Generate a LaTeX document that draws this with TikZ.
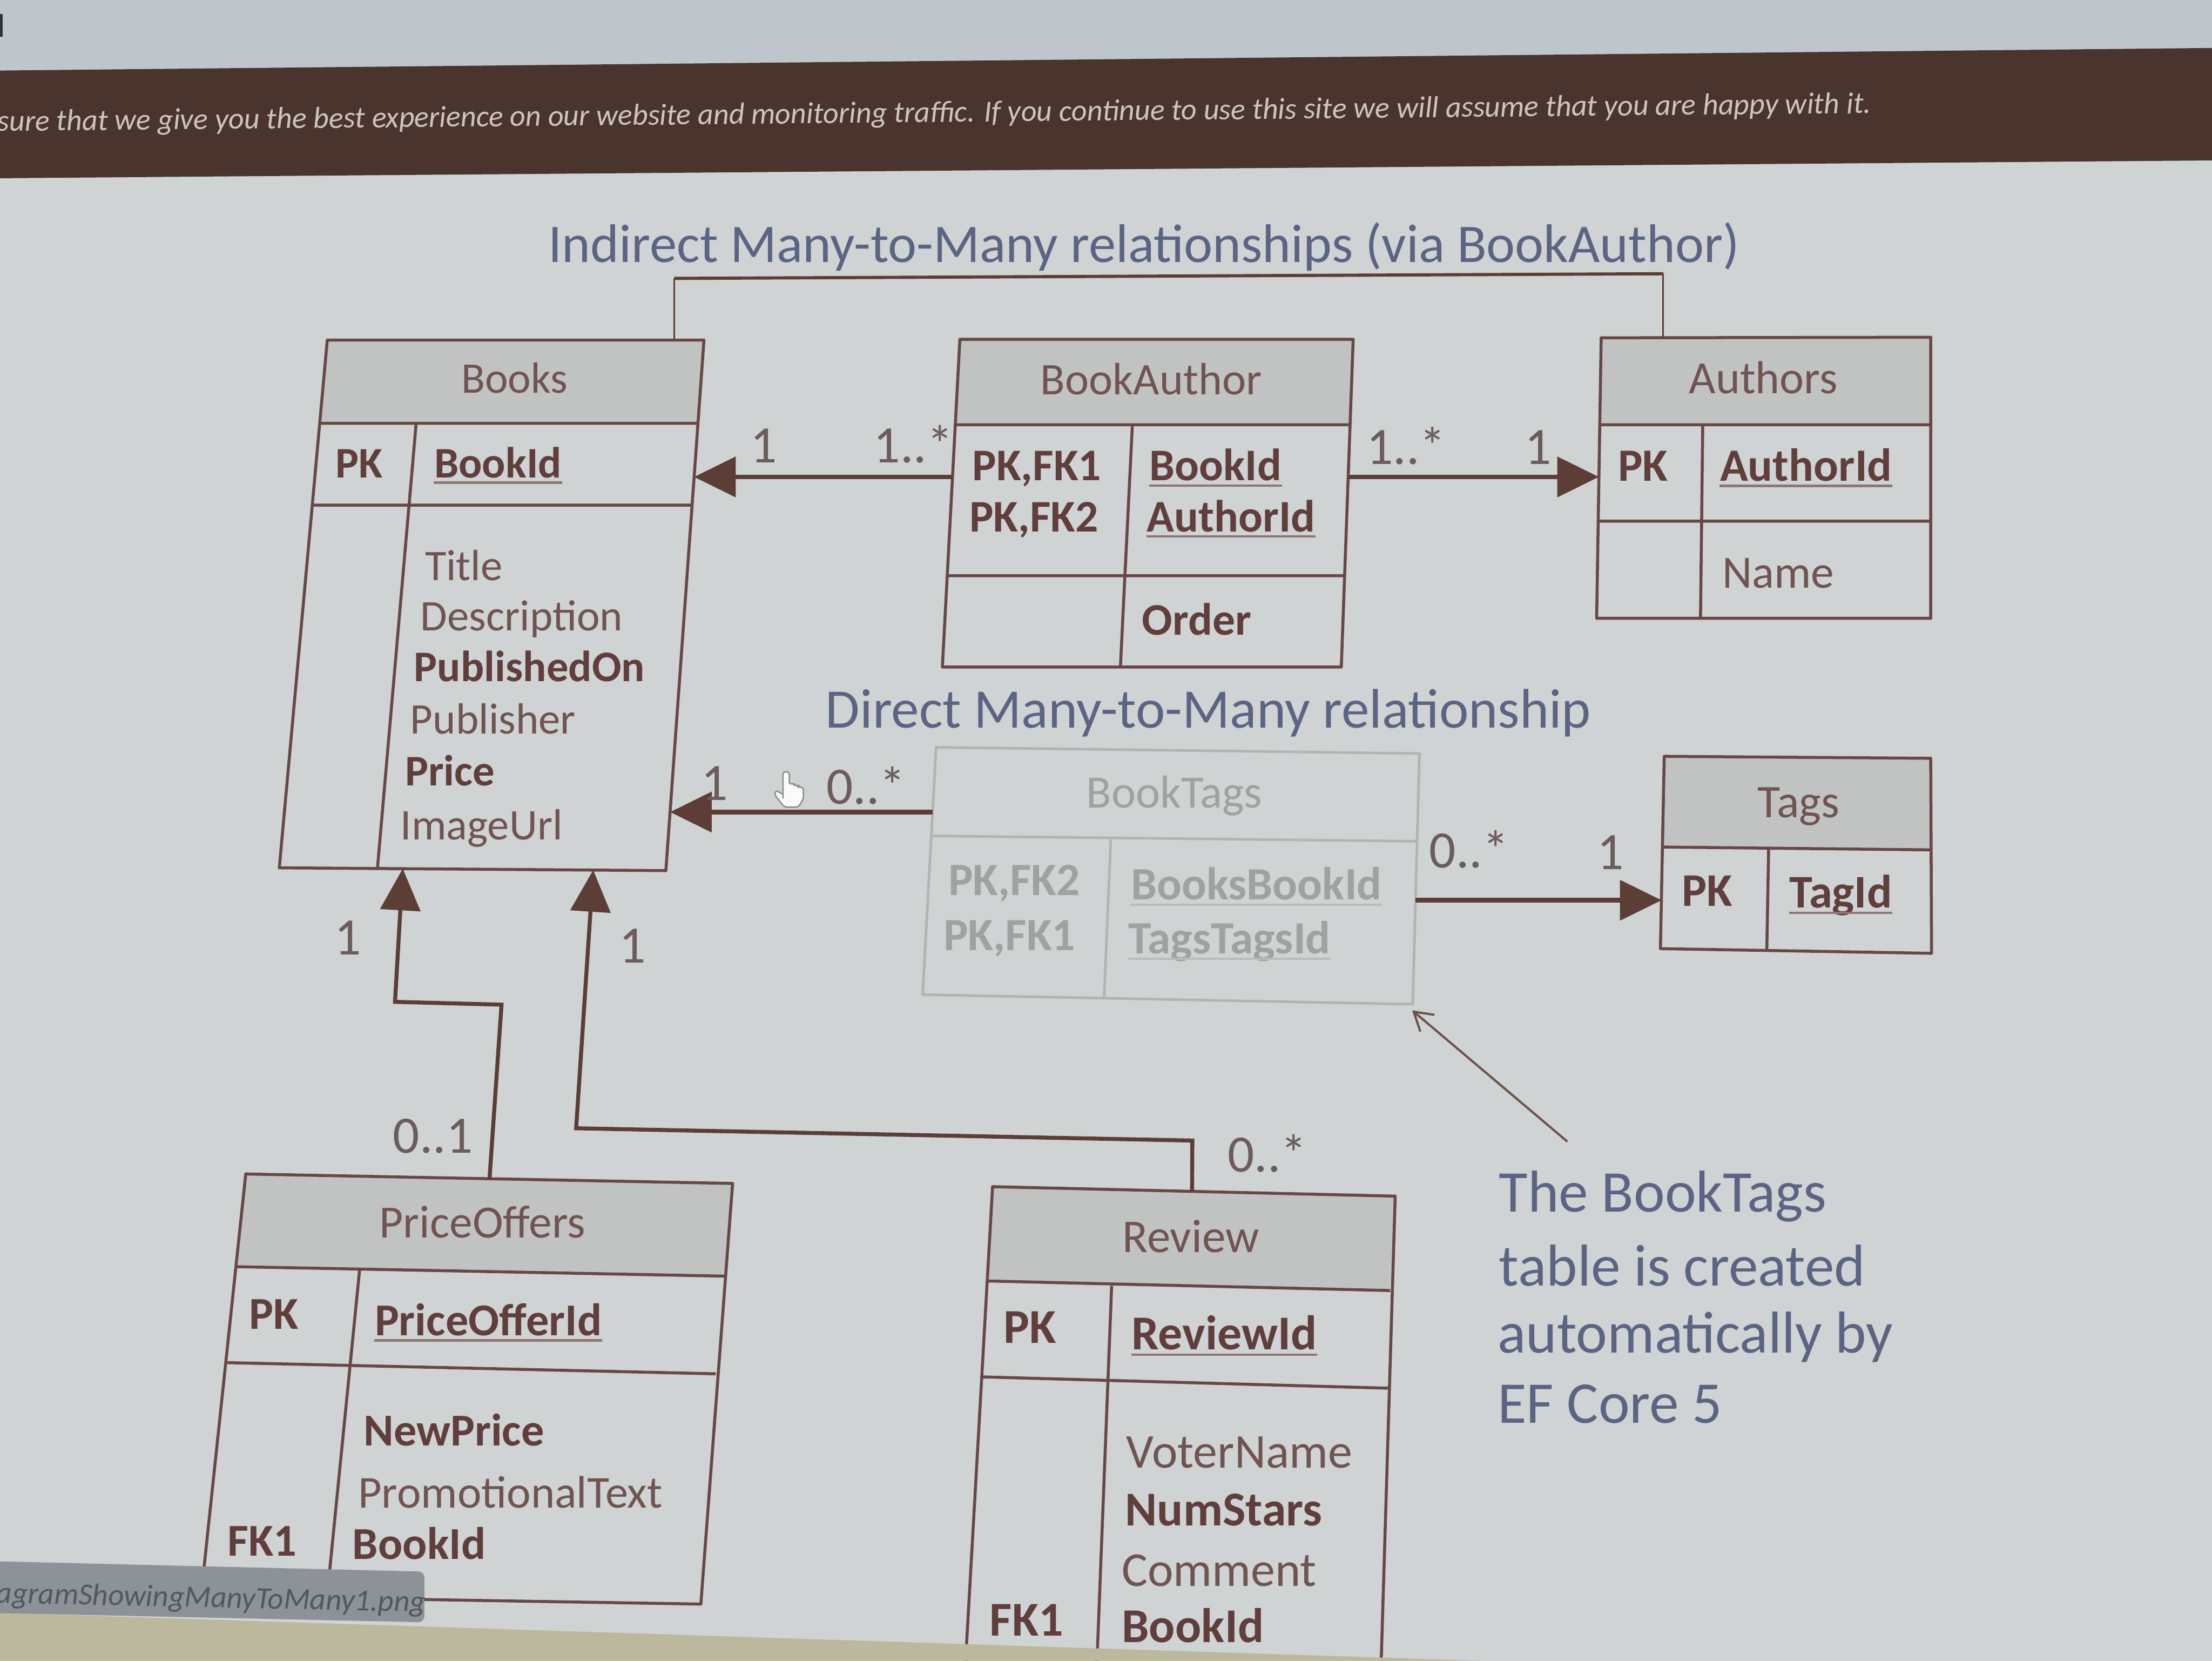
\documentclass[tikz,border=0pt]{standalone}
\usepackage{fontspec}
\setmainfont{Carlito}
\usetikzlibrary{arrows.meta}
\definecolor{bg}{RGB}{207,211,211}
\definecolor{topbg}{RGB}{190,198,203}
\definecolor{banner}{RGB}{74,52,46}
\definecolor{bannertxt}{RGB}{205,196,192}
\definecolor{tline}{RGB}{104,72,70}
\definecolor{hdr}{RGB}{193,195,195}
\definecolor{ttxt}{RGB}{112,84,82}
\definecolor{btxt}{RGB}{96,62,60}
\definecolor{connc}{RGB}{92,62,55}
\definecolor{lbl}{RGB}{108,92,92}
\definecolor{note}{RGB}{92,100,132}
\definecolor{ghost}{RGB}{178,180,180}
\definecolor{ghosttxt}{RGB}{160,161,161}
\definecolor{tipc}{RGB}{140,146,152}
\definecolor{tiptxt}{RGB}{82,88,94}
\definecolor{beige}{RGB}{188,184,158}
\tikzset{
  tbl/.style={draw=tline, line width=1.5pt, line join=round},
  ghostline/.style={draw=ghost, line width=1.3pt, line join=round},
  hd/.style={inner sep=0pt, anchor=base, text=ttxt, font=\fontsize{#1}{#1}\selectfont},
  rg/.style={inner sep=0pt, anchor=base west, text=ttxt, font=\fontsize{#1}{#1}\selectfont},
  bd/.style={inner sep=0pt, anchor=base west, text=btxt, font=\fontsize{#1}{#1}\selectfont\bfseries},
  bdc/.style={inner sep=0pt, anchor=base, text=btxt, font=\fontsize{#1}{#1}\selectfont\bfseries},
  gh/.style={inner sep=0pt, anchor=base west, text=ghosttxt, font=\fontsize{#1}{#1}\selectfont\bfseries},
  lb/.style={inner sep=0pt, anchor=base west, text=lbl, font=\fontsize{26.5}{26.5}\selectfont},
  nt/.style={inner sep=0pt, anchor=base west, text=note, font=\fontsize{#1}{#1}\selectfont},
  ulline/.style={draw=ttxt!80, line width=1.2pt},
  conn/.style={draw=connc, line width=2.4pt},
  connb/.style={draw=connc, line width=2pt},
  tri/.style={-{Triangle[length=21pt,width=20pt]}},
}
\begin{document}
\begin{tikzpicture}[x=0.025cm,y=-0.025cm]
\useasboundingbox (0,0) rectangle (1568,1177);
\begin{scope}
\clip (0,0) rectangle (1568,1177);
% background
\fill[bg] (0,0) rectangle (1568,1177);
\fill[topbg] (0,0) -- (1568,0) -- (1568,34) -- (0,50) -- cycle;
\fill[black!80] (0,10) rectangle (2,26);
\fill[banner] (0,50) -- (1568,34) -- (1568,113.7) -- (0,126.3) -- cycle;
\node[anchor=base west, inner sep=0pt, rotate=0.55, text=bannertxt] (bannertext) at (-2,93)
  {\resizebox{33.2cm}{!}{\itshape sure that we give you the best experience on our website and monitoring traffic. If you continue to use this site we will assume that you are happy with it.}};

% titles
\node[nt=27.4] (title) at (388.5,185.9) {Indirect Many-to-Many relationships (via BookAuthor)};
\node[nt=28.1] (direct) at (585,516) {Direct Many-to-Many relationship};

% ---------- Books ----------
\fill[hdr] (232,241) -- (499,241) -- (494.8,300) -- (226.6,300) -- cycle;
\draw[tbl] (232,241) -- (499,241) -- (472,617) -- (198,615) -- cycle;
\draw[tbl] (226.6,300) -- (494.8,300) (221.4,358) -- (490.6,358) (295,300) -- (267.5,616);
\node[hd=22] (bkH) at (364.7,278.6) {Books};
\node[bdc=22] (bkPK) at (254.6,338.5) {PK};
\node[bd=22] (bkId) at (307.5,338.5) {BookId};
\draw[ulline] ([yshift=-2.5pt]bkId.base west) -- ([yshift=-2.5pt]bkId.base east);
\node[rg=22] (bkTitle) at (301,411.3) {Title};
\node[rg=22] (bkDesc) at (297.8,447) {Description};
\node[bd=22] (bkPub) at (293.3,483) {PublishedOn};
\node[rg=22] (bkPubl) at (290.6,520) {Publisher};
\node[bd=22] (bkPrice) at (286.9,556.7) {Price};
\node[rg=22] (bkImg) at (283.7,595) {ImageUrl};
\coordinate (bkR1) at (492,338);
\coordinate (bkR2) at (475,575.5);
\coordinate (bkB1) at (285.5,615.6);
\coordinate (bkB2) at (420.5,616.6);
\coordinate (bkT) at (478,241);

% ---------- BookAuthor ----------
\fill[hdr] (680.4,240.5) -- (959.2,240.5) -- (957,301) -- (677.2,301) -- cycle;
\draw[tbl] (680.4,240.5) -- (959.2,240.5) -- (950.8,472.7) -- (668,472.7) -- cycle;
\draw[tbl] (677.2,301) -- (957,301) (671.5,408) -- (953.1,408) (802.7,301) -- (794.2,472.7);
\node[hd=22.8] (baH) at (816,279.7) {BookAuthor};
\node[bd=22.8] (baK1) at (689,340.6) {PK,FK1};
\node[bd=22.8] (baK2) at (687,376.7) {PK,FK2};
\node[bd=22.8] (baF1) at (814.5,340.6) {BookId};
\node[bd=22.8] (baF2) at (812.7,376.7) {AuthorId};
\draw[ulline] ([yshift=-2.5pt]baF1.base west) -- ([yshift=-2.5pt]baF1.base east);
\draw[ulline] ([yshift=-2.5pt]baF2.base west) -- ([yshift=-2.5pt]baF2.base east);
\node[bd=22.8] (baOrder) at (809.3,450) {Order};
\coordinate (baL) at (675.2,338);
\coordinate (baR) at (955.7,338);

% ---------- Authors ----------
\fill[hdr] (1135,239.4) -- (1368.6,239) -- (1368.6,301) -- (1134,301) -- cycle;
\draw[tbl] (1135,239.4) -- (1368.6,239) -- (1368.6,438.2) -- (1131.8,438.2) -- cycle;
\draw[tbl] (1134,301) -- (1368.6,301) (1132.9,369.4) -- (1368.6,369.4) (1207,301) -- (1205.4,438.2);
\node[hd=23.3] (auH) at (1250,278.8) {Authors};
\node[bdc=23.3] (auPK) at (1164.7,340.8) {PK};
\node[bd=23.3] (auId) at (1219,340.8) {AuthorId};
\draw[ulline] ([yshift=-2.5pt]auId.base west) -- ([yshift=-2.5pt]auId.base east);
\node[rg=23.3] (auName) at (1220.6,416.5) {Name};
\coordinate (auL) at (1133.4,338);
\coordinate (auT) at (1179,239.3);

% ---------- Tags ----------
\fill[hdr] (1179.7,536) -- (1368.6,537.4) -- (1368.8,602.3) -- (1178.9,600.3) -- cycle;
\draw[tbl] (1179.7,536) -- (1368.6,537.4) -- (1369.2,675.6) -- (1177,672.3) -- cycle;
\draw[tbl] (1178.9,600.3) -- (1368.8,602.3) (1253.7,601.6) -- (1252.4,673.6);
\node[hd=23.6] (tgH) at (1275,579.3) {Tags};
\node[bdc=23.6] (tgPK) at (1210.2,642) {PK};
\node[bd=23.6] (tgId) at (1268.2,643.4) {TagId};
\draw[ulline] ([yshift=-2.5pt]tgId.base west) -- ([yshift=-2.5pt]tgId.base east);
\coordinate (tgL) at (1177.8,638);

% ---------- BookTags (ghost) ----------
\draw[ghostline] (663.6,529.6) -- (1006.2,534) -- (1001.4,711.7) -- (654,704.9) -- cycle;
\draw[ghostline] (660.5,592.4) -- (1004.6,596.2) (787.4,595) -- (782.6,708);
\node[inner sep=0pt, anchor=base, text=ghosttxt, font=\fontsize{23.3}{23.3}\selectfont] (btH) at (832.5,572.3) {BookTags};
\node[gh=23.3] (btK2) at (672,634.5) {PK,FK2};
\node[gh=23.3] (btK1) at (668.6,673.5) {PK,FK1};
\node[gh=23.3] (btF1) at (801.4,637.6) {BooksBookId};
\node[gh=23.3] (btF2) at (799.5,676) {TagsTagsId};
\draw[draw=ghost!90, line width=1pt] ([yshift=-2.5pt]btF1.base west) -- ([yshift=-2.5pt]btF1.base east);
\draw[draw=ghost!90, line width=1pt] ([yshift=-2.5pt]btF2.base west) -- ([yshift=-2.5pt]btF2.base east);
\coordinate (btL) at (661.1,575.5);
\coordinate (btR) at (1003.4,638);
\coordinate (btP) at (1001,716);

% ---------- PriceOffers ----------
\fill[hdr] (174.2,832) -- (519.3,838.7) -- (514,904.4) -- (167.6,897.7) -- cycle;
\draw[tbl] (174.2,832) -- (519.3,838.7) -- (496.8,1136.8) -- (142.5,1131) -- cycle;
\draw[tbl] (167.6,897.7) -- (514,904.4) (161,965.7) -- (507.4,973.6) (254.9,900) -- (231.8,1132);
\node[hd=23.3] (poH) at (342,877.2) {PriceOffers};
\node[bdc=23] (poPK) at (194,941.8) {PK};
\node[bd=23] (poId) at (265.4,946.4) {PriceOfferId};
\draw[ulline] ([yshift=-2.5pt]poId.base west) -- ([yshift=-2.5pt]poId.base east);
\node[bd=23] (poNew) at (257.5,1024.5) {NewPrice};
\node[rg=23] (poPromo) at (253.6,1068.8) {PromotionalText};
\node[bd=23] (poFK) at (161,1102.8) {FK1};
\node[bd=23] (poBook) at (249.6,1105) {BookId};
\coordinate (poT) at (347,835.4);
\coordinate (po1) at (355.5,712);
\coordinate (po2) at (280,710);

% ---------- Review ----------
\fill[hdr] (703.6,841) -- (989,847.7) -- (985.5,914.6) -- (699,907.8) -- cycle;
\draw[tbl] (684.3,1180) -- (703.6,841) -- (989,847.7) -- (979,1180);
\draw[tbl] (699,907.8) -- (985.5,914.6) (696.8,975.8) -- (983.7,983.8) (788,911.2) -- (777.5,1180);
\node[hd=23.7] (rvH) at (844,887.4) {Review};
\node[bdc=24.5] (rvPK) at (730,952) {PK};
\node[bd=24.5] (rvId) at (801.8,956.6) {ReviewId};
\draw[ulline] ([yshift=-2.5pt]rvId.base west) -- ([yshift=-2.5pt]rvId.base east);
\node[rg=24.5] (rvVoter) at (798.2,1040.4) {VoterName};
\node[bd=24.5] (rvStars) at (797.3,1081.3) {NumStars};
\node[rg=24.5] (rvComment) at (795,1124.3) {Comment};
\node[bd=24.5] (rvFK) at (701.3,1159.5) {FK1};
\node[bd=24.5] (rvBook) at (795,1164) {BookId};
\coordinate (rvT) at (845,844.3);
\coordinate (rv1) at (845.2,808.3);
\coordinate (rv2) at (408.4,799.6);

% ---------- connectors ----------
\coordinate (brL) at (478,197.3);
\coordinate (brR) at (1179,194);
\draw[draw=connc, line width=0.8pt] (bkT) -- (brL);
\draw[draw=connc, line width=1.6pt] (brL) -- (brR);
\draw[draw=connc, line width=0.8pt] (brR) -- (auT);

\draw[conn, tri] (baL) -- (bkR1);
\draw[conn, tri] (baR) -- (auL);
\draw[conn, tri] (btL) -- (bkR2);
\draw[conn, tri] (btR) -- (tgL);
\draw[connb, tri, line join=miter] (poT) -- (po1) -- (po2) -- (bkB1);
\draw[connb, tri, line join=miter] (rvT) -- (rv1) -- (rv2) -- (bkB2);

% labels
\node[lb] (l1) at (531.5,328) {1};
\node[lb] (l2) at (619,328) {1..*};
\node[lb] (l3) at (968.4,328.9) {1..*};
\node[lb] (l4) at (1080.7,328.9) {1};
\node[lb] (l5) at (496.8,567) {1};
\node[lb] (l6) at (585.5,569.8) {0..*};
\node[lb] (l7) at (1013,615) {0..*};
\node[lb] (l8) at (1132,616.3) {1};
\node[lb] (l9) at (237,676.6) {1};
\node[lb] (l10) at (278.4,817) {0..1};
\node[lb] (l11) at (438.8,682.3) {1};
\node[lb] (l12) at (870,830.4) {0..*};

% hand cursor
\draw[fill=white!92!bg, draw=black!45, line width=0.7pt, line join=round, rounded corners=1.2]
  (555,566) -- (555,547) -- (559.5,547) -- (559.5,556) -- (563,555) -- (563,557) -- (566,556.5)
  -- (566,558) -- (569.5,558) -- (569.5,566) -- (566,572) -- (556,572) -- (549,563) -- (550,560) -- (555,563);

% note
\node[nt=29.8] (n1) at (1062.3,859) {The BookTags};
\node[nt=29.8] (n2) at (1062.3,911.2) {table is created};
\node[nt=29.8] (n3) at (1061.4,958.8) {automatically by};
\node[nt=29.8] (n4) at (1061.4,1008.7) {EF Core 5};
\coordinate (ptrS) at (1111,809);
\draw[draw=connc!90, line width=1.1pt, -{Straight Barb[length=9pt,width=11pt]}] (ptrS) -- (btP);

% tooltip and bottom strip
\fill[beige] (0,1143) -- (1050,1177) -- (0,1177) -- cycle;
\fill[tipc, rounded corners=3] (-10,1106.3) -- (300.8,1113.8) -- (300.8,1149.7) -- (-10,1143) -- cycle;
\node[anchor=base west, inner sep=0pt, rotate=-1.2, text=tiptxt, font=\fontsize{15.5}{15.5}\selectfont\itshape] (tiptext) at (-3,1136) {agramShowingManyToMany1.png};
\end{scope}
\end{tikzpicture}
\end{document}
